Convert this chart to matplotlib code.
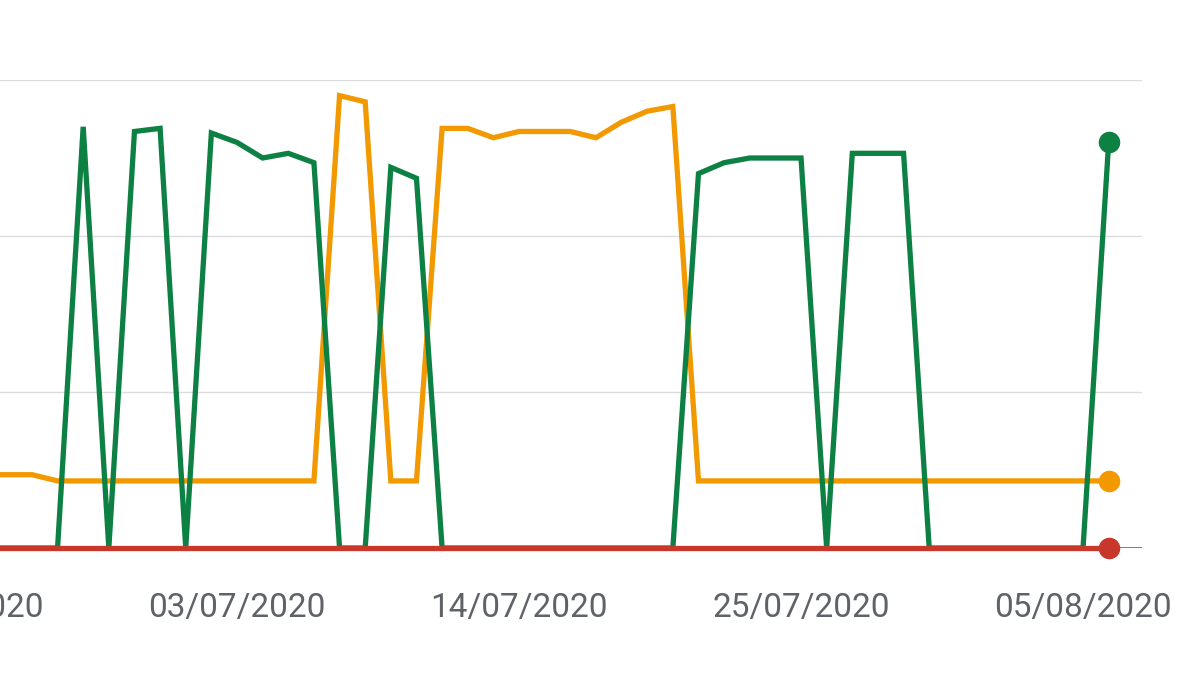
import matplotlib.pyplot as plt
import matplotlib.dates as mdates
import pandas as pd

dates = pd.date_range('2020-06-22', '2020-08-06', freq='D')

good = [0, 0, 0, 0, 0, 270, 0, 267, 269, 0,
        266, 260, 250, 253, 247, 0, 0, 244, 237, 0,
        0, 0, 0, 0, 0, 0, 0, 0, 0, 240,
        247, 250, 250, 250, 0, 253, 253, 253, 0, 0,
        0, 0, 0, 0, 0, 260]
needs_improvement = [47, 47, 47, 47, 43, 43, 43, 43, 43, 43,
                     43, 43, 43, 43, 43, 290, 286, 43, 43, 269,
                     269, 263, 267, 267, 267, 263, 273, 280, 283, 43,
                     43, 43, 43, 43, 43, 43, 43, 43, 43, 43,
                     43, 43, 43, 43, 43, 43]
poor = [0] * len(dates)

tick_dates = pd.to_datetime(['2020-06-22', '2020-07-03', '2020-07-14',
                             '2020-07-25', '2020-08-05'])

fig = plt.figure(figsize=(12, 6.86), dpi=100)
# chart is cropped on the left, so the axes start outside the figure
ax = fig.add_axes([-45 / 1200, (686 - 548) / 686, 1187 / 1200, 468 / 686])

lw = 3.8
ax.plot(dates, needs_improvement, color='#f29900', lw=lw, solid_joinstyle='miter', zorder=3, clip_on=False)
ax.plot(dates, good, color='#0d8043', lw=lw, solid_joinstyle='miter', zorder=4, clip_on=False)
ax.plot(dates, poor, color='#c8372a', lw=lw, zorder=5, clip_on=False)

ax.plot(dates[-1], needs_improvement[-1], 'o', color='#f29900', ms=14.5, zorder=6, clip_on=False)
ax.plot(dates[-1], good[-1], 'o', color='#0d8043', ms=14.5, zorder=6, clip_on=False)
ax.plot(dates[-1], poor[-1], 'o', color='#c8372a', ms=14.5, zorder=6, clip_on=False)

ax.set_ylim(0, 300)
ax.set_yticks([100, 200, 300])
ax.set_xlim(dates[0], dates[0] + pd.Timedelta(days=46.3))
ax.grid(axis='y', color='#dadce0', lw=1)
ax.axhline(0, color='#70757a', lw=1.3, zorder=2)

ax.set_xticks(tick_dates)
ax.xaxis.set_major_formatter(mdates.DateFormatter('%d/%m/%Y'))
ax.tick_params(axis='x', length=0, pad=32, labelsize=24, labelcolor='#5f6368')
ax.tick_params(axis='y', length=0, labelleft=False)
for label in ax.get_xticklabels():
    label.set_fontfamily('Roboto')

for s in ax.spines.values():
    s.set_visible(False)

fig.savefig('out.png', dpi=100)
